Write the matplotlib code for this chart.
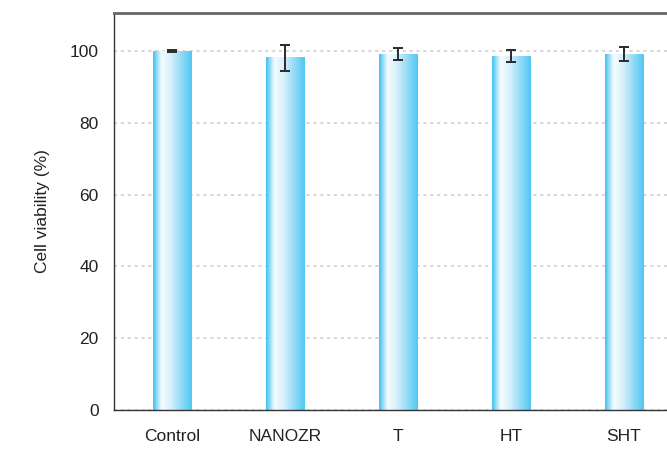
import numpy as np
import matplotlib.pyplot as plt
from matplotlib.colors import LinearSegmentedColormap

# datos
grupos = ['Control', 'NANOZR', 'T', 'HT', 'SHT']
viabilidad = [100.0, 98.1, 99.2, 98.6, 99.2]
error = [0.2, 3.7, 1.6, 1.6, 1.9]

plt.rcParams['font.family'] = ['Liberation Sans', 'DejaVu Sans']

fig = plt.figure(figsize=(6.67, 4.5), dpi=100)
ax = fig.add_axes([0.171, 0.089, 0.829, 0.882])

x = np.arange(len(grupos))
barras = ax.bar(x, viabilidad, width=0.345, color='none', edgecolor='none', zorder=2)

# degradado horizontal dentro de cada barra
cmap = LinearSegmentedColormap.from_list(
    'azul', [(0.0, '#3fc0f0'), (0.22, '#f6fcff'), (0.45, '#d8f0fb'), (1.0, '#4fc7f2')])
grad = np.linspace(0, 1, 256).reshape(1, -1)
for b in barras:
    x0, y0 = b.get_x(), b.get_y()
    w, h = b.get_width(), b.get_height()
    ax.imshow(grad, cmap=cmap, extent=[x0, x0 + w, y0, y0 + h],
              aspect='auto', zorder=2, interpolation='bicubic')

ax.errorbar(x, viabilidad, yerr=error, fmt='none', ecolor='#2a2a2a',
            elinewidth=1.4, capsize=3.5, capthick=1.4, zorder=3)

ax.set_xlim(-0.513, 4.38)
ax.set_ylim(0, 110.6)
ax.set_yticks([0, 20, 40, 60, 80, 100])
ax.set_xticks(x)
ax.set_xticklabels(grupos)
ax.tick_params(axis='both', length=0, labelsize=12.5, colors='#222222')
ax.tick_params(axis='y', pad=11)
ax.tick_params(axis='x', pad=14)
ax.yaxis.grid(True, linestyle=(0, (2, 2.5)), color='#cccccc', linewidth=1.1)
ax.set_axisbelow(True)

ax.spines['right'].set_visible(False)
ax.spines['top'].set_color('#666666')
ax.spines['top'].set_linewidth(2)
ax.spines['left'].set_color('#333333')
ax.spines['left'].set_linewidth(1)
ax.spines['bottom'].set_color('#333333')
ax.spines['bottom'].set_linewidth(1)

ax.set_ylabel('Cell viability (%)', fontsize=12.5, color='#222222', labelpad=14)

fig.savefig('out.png', dpi=100)
